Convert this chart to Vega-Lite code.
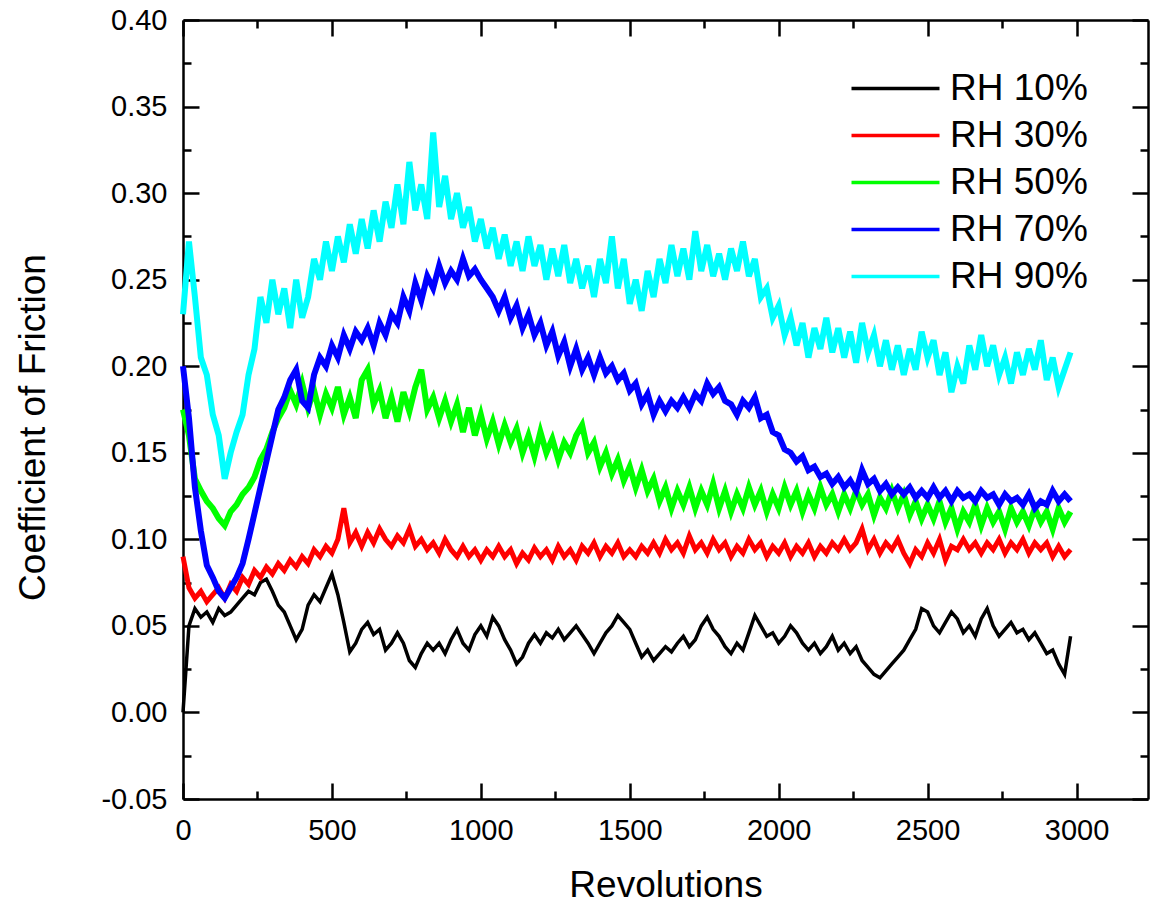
{
"$schema": "https://vega.github.io/schema/vega-lite/v6.json",
"width": 965, "height": 779,
"autosize": {"type": "none"},
"padding": {"left": 183, "top": 20, "right": 3, "bottom": 108},
"background": "white",
"config": {"view": {"stroke": null}, "font": "Liberation Sans",
 "axis": {"grid": false, "domainColor": "black", "domainWidth": 2.5, "tickColor": "black", "tickWidth": 2.5, "labelFont": "Liberation Sans", "labelFontSize": 29, "labelColor": "black", "titleFont": "Liberation Sans", "titleFontWeight": "normal", "titleColor": "black", "titleFontSize": 37, "labelFlush": false, "labelOverlap": false}},
"data": {"values": [
{"k":"RH 10%","r":0,"c":0.000},{"k":"RH 10%","r":20,"c":0.050},{"k":"RH 10%","r":40,"c":0.060},{"k":"RH 10%","r":60,"c":0.055},{"k":"RH 10%","r":80,"c":0.058},{"k":"RH 10%","r":100,"c":0.052},{"k":"RH 10%","r":120,"c":0.060},{"k":"RH 10%","r":140,"c":0.056},{"k":"RH 10%","r":160,"c":0.058},{"k":"RH 10%","r":180,"c":0.062},
{"k":"RH 10%","r":200,"c":0.066},{"k":"RH 10%","r":220,"c":0.070},{"k":"RH 10%","r":240,"c":0.068},{"k":"RH 10%","r":260,"c":0.075},{"k":"RH 10%","r":280,"c":0.077},{"k":"RH 10%","r":300,"c":0.070},{"k":"RH 10%","r":320,"c":0.062},{"k":"RH 10%","r":340,"c":0.058},{"k":"RH 10%","r":360,"c":0.050},{"k":"RH 10%","r":380,"c":0.042},
{"k":"RH 10%","r":400,"c":0.048},{"k":"RH 10%","r":420,"c":0.062},{"k":"RH 10%","r":440,"c":0.068},{"k":"RH 10%","r":460,"c":0.064},{"k":"RH 10%","r":480,"c":0.072},{"k":"RH 10%","r":500,"c":0.080},{"k":"RH 10%","r":520,"c":0.068},{"k":"RH 10%","r":540,"c":0.052},{"k":"RH 10%","r":560,"c":0.035},{"k":"RH 10%","r":580,"c":0.040},
{"k":"RH 10%","r":600,"c":0.048},{"k":"RH 10%","r":620,"c":0.052},{"k":"RH 10%","r":640,"c":0.045},{"k":"RH 10%","r":660,"c":0.048},{"k":"RH 10%","r":680,"c":0.036},{"k":"RH 10%","r":700,"c":0.040},{"k":"RH 10%","r":720,"c":0.046},{"k":"RH 10%","r":740,"c":0.040},{"k":"RH 10%","r":760,"c":0.030},{"k":"RH 10%","r":780,"c":0.026},
{"k":"RH 10%","r":800,"c":0.034},{"k":"RH 10%","r":820,"c":0.040},{"k":"RH 10%","r":840,"c":0.036},{"k":"RH 10%","r":860,"c":0.040},{"k":"RH 10%","r":880,"c":0.034},{"k":"RH 10%","r":900,"c":0.042},{"k":"RH 10%","r":920,"c":0.048},{"k":"RH 10%","r":940,"c":0.040},{"k":"RH 10%","r":960,"c":0.036},{"k":"RH 10%","r":980,"c":0.045},
{"k":"RH 10%","r":1000,"c":0.050},{"k":"RH 10%","r":1020,"c":0.044},{"k":"RH 10%","r":1040,"c":0.055},{"k":"RH 10%","r":1060,"c":0.050},{"k":"RH 10%","r":1080,"c":0.042},{"k":"RH 10%","r":1100,"c":0.036},{"k":"RH 10%","r":1120,"c":0.028},{"k":"RH 10%","r":1140,"c":0.032},{"k":"RH 10%","r":1160,"c":0.040},{"k":"RH 10%","r":1180,"c":0.045},
{"k":"RH 10%","r":1200,"c":0.040},{"k":"RH 10%","r":1220,"c":0.046},{"k":"RH 10%","r":1240,"c":0.043},{"k":"RH 10%","r":1260,"c":0.048},{"k":"RH 10%","r":1280,"c":0.042},{"k":"RH 10%","r":1300,"c":0.046},{"k":"RH 10%","r":1320,"c":0.050},{"k":"RH 10%","r":1340,"c":0.045},{"k":"RH 10%","r":1360,"c":0.040},{"k":"RH 10%","r":1380,"c":0.034},
{"k":"RH 10%","r":1400,"c":0.040},{"k":"RH 10%","r":1420,"c":0.046},{"k":"RH 10%","r":1440,"c":0.050},{"k":"RH 10%","r":1460,"c":0.056},{"k":"RH 10%","r":1480,"c":0.052},{"k":"RH 10%","r":1500,"c":0.048},{"k":"RH 10%","r":1520,"c":0.040},{"k":"RH 10%","r":1540,"c":0.032},{"k":"RH 10%","r":1560,"c":0.036},{"k":"RH 10%","r":1580,"c":0.030},
{"k":"RH 10%","r":1600,"c":0.034},{"k":"RH 10%","r":1620,"c":0.038},{"k":"RH 10%","r":1640,"c":0.035},{"k":"RH 10%","r":1660,"c":0.040},{"k":"RH 10%","r":1680,"c":0.044},{"k":"RH 10%","r":1700,"c":0.038},{"k":"RH 10%","r":1720,"c":0.042},{"k":"RH 10%","r":1740,"c":0.050},{"k":"RH 10%","r":1760,"c":0.055},{"k":"RH 10%","r":1780,"c":0.048},
{"k":"RH 10%","r":1800,"c":0.044},{"k":"RH 10%","r":1820,"c":0.038},{"k":"RH 10%","r":1840,"c":0.034},{"k":"RH 10%","r":1860,"c":0.040},{"k":"RH 10%","r":1880,"c":0.036},{"k":"RH 10%","r":1900,"c":0.046},{"k":"RH 10%","r":1920,"c":0.056},{"k":"RH 10%","r":1940,"c":0.050},{"k":"RH 10%","r":1960,"c":0.044},{"k":"RH 10%","r":1980,"c":0.046},
{"k":"RH 10%","r":2000,"c":0.040},{"k":"RH 10%","r":2020,"c":0.044},{"k":"RH 10%","r":2040,"c":0.050},{"k":"RH 10%","r":2060,"c":0.046},{"k":"RH 10%","r":2080,"c":0.040},{"k":"RH 10%","r":2100,"c":0.036},{"k":"RH 10%","r":2120,"c":0.040},{"k":"RH 10%","r":2140,"c":0.034},{"k":"RH 10%","r":2160,"c":0.038},{"k":"RH 10%","r":2180,"c":0.044},
{"k":"RH 10%","r":2200,"c":0.036},{"k":"RH 10%","r":2220,"c":0.040},{"k":"RH 10%","r":2240,"c":0.034},{"k":"RH 10%","r":2260,"c":0.038},{"k":"RH 10%","r":2280,"c":0.030},{"k":"RH 10%","r":2300,"c":0.026},{"k":"RH 10%","r":2320,"c":0.022},{"k":"RH 10%","r":2340,"c":0.020},{"k":"RH 10%","r":2360,"c":0.024},{"k":"RH 10%","r":2380,"c":0.028},
{"k":"RH 10%","r":2400,"c":0.032},{"k":"RH 10%","r":2420,"c":0.036},{"k":"RH 10%","r":2440,"c":0.042},{"k":"RH 10%","r":2460,"c":0.048},{"k":"RH 10%","r":2480,"c":0.060},{"k":"RH 10%","r":2500,"c":0.058},{"k":"RH 10%","r":2520,"c":0.050},{"k":"RH 10%","r":2540,"c":0.046},{"k":"RH 10%","r":2560,"c":0.052},{"k":"RH 10%","r":2580,"c":0.058},
{"k":"RH 10%","r":2600,"c":0.054},{"k":"RH 10%","r":2620,"c":0.046},{"k":"RH 10%","r":2640,"c":0.050},{"k":"RH 10%","r":2660,"c":0.044},{"k":"RH 10%","r":2680,"c":0.054},{"k":"RH 10%","r":2700,"c":0.060},{"k":"RH 10%","r":2720,"c":0.050},{"k":"RH 10%","r":2740,"c":0.044},{"k":"RH 10%","r":2760,"c":0.048},{"k":"RH 10%","r":2780,"c":0.052},
{"k":"RH 10%","r":2800,"c":0.046},{"k":"RH 10%","r":2820,"c":0.048},{"k":"RH 10%","r":2840,"c":0.042},{"k":"RH 10%","r":2860,"c":0.046},{"k":"RH 10%","r":2880,"c":0.040},{"k":"RH 10%","r":2900,"c":0.034},{"k":"RH 10%","r":2920,"c":0.036},{"k":"RH 10%","r":2940,"c":0.028},{"k":"RH 10%","r":2960,"c":0.022},{"k":"RH 10%","r":2980,"c":0.044},

{"k":"RH 30%","r":0,"c":0.090},{"k":"RH 30%","r":20,"c":0.072},{"k":"RH 30%","r":40,"c":0.066},{"k":"RH 30%","r":60,"c":0.070},{"k":"RH 30%","r":80,"c":0.064},{"k":"RH 30%","r":100,"c":0.068},{"k":"RH 30%","r":120,"c":0.072},{"k":"RH 30%","r":140,"c":0.066},{"k":"RH 30%","r":160,"c":0.074},{"k":"RH 30%","r":180,"c":0.070},
{"k":"RH 30%","r":200,"c":0.078},{"k":"RH 30%","r":220,"c":0.074},{"k":"RH 30%","r":240,"c":0.082},{"k":"RH 30%","r":260,"c":0.078},{"k":"RH 30%","r":280,"c":0.084},{"k":"RH 30%","r":300,"c":0.080},{"k":"RH 30%","r":320,"c":0.086},{"k":"RH 30%","r":340,"c":0.082},{"k":"RH 30%","r":360,"c":0.088},{"k":"RH 30%","r":380,"c":0.084},
{"k":"RH 30%","r":400,"c":0.090},{"k":"RH 30%","r":420,"c":0.086},{"k":"RH 30%","r":440,"c":0.094},{"k":"RH 30%","r":460,"c":0.090},{"k":"RH 30%","r":480,"c":0.096},{"k":"RH 30%","r":500,"c":0.092},{"k":"RH 30%","r":520,"c":0.100},{"k":"RH 30%","r":540,"c":0.118},{"k":"RH 30%","r":560,"c":0.098},{"k":"RH 30%","r":580,"c":0.104},
{"k":"RH 30%","r":600,"c":0.096},{"k":"RH 30%","r":620,"c":0.104},{"k":"RH 30%","r":640,"c":0.098},{"k":"RH 30%","r":660,"c":0.106},{"k":"RH 30%","r":680,"c":0.100},{"k":"RH 30%","r":700,"c":0.096},{"k":"RH 30%","r":720,"c":0.102},{"k":"RH 30%","r":740,"c":0.098},{"k":"RH 30%","r":760,"c":0.106},{"k":"RH 30%","r":780,"c":0.096},
{"k":"RH 30%","r":800,"c":0.100},{"k":"RH 30%","r":820,"c":0.094},{"k":"RH 30%","r":840,"c":0.098},{"k":"RH 30%","r":860,"c":0.092},{"k":"RH 30%","r":880,"c":0.100},{"k":"RH 30%","r":900,"c":0.094},{"k":"RH 30%","r":920,"c":0.090},{"k":"RH 30%","r":940,"c":0.096},{"k":"RH 30%","r":960,"c":0.090},{"k":"RH 30%","r":980,"c":0.094},
{"k":"RH 30%","r":1000,"c":0.088},{"k":"RH 30%","r":1020,"c":0.094},{"k":"RH 30%","r":1040,"c":0.090},{"k":"RH 30%","r":1060,"c":0.096},{"k":"RH 30%","r":1080,"c":0.090},{"k":"RH 30%","r":1100,"c":0.094},{"k":"RH 30%","r":1120,"c":0.086},{"k":"RH 30%","r":1140,"c":0.092},{"k":"RH 30%","r":1160,"c":0.088},{"k":"RH 30%","r":1180,"c":0.095},
{"k":"RH 30%","r":1200,"c":0.090},{"k":"RH 30%","r":1220,"c":0.094},{"k":"RH 30%","r":1240,"c":0.088},{"k":"RH 30%","r":1260,"c":0.096},{"k":"RH 30%","r":1280,"c":0.090},{"k":"RH 30%","r":1300,"c":0.094},{"k":"RH 30%","r":1320,"c":0.088},{"k":"RH 30%","r":1340,"c":0.096},{"k":"RH 30%","r":1360,"c":0.092},{"k":"RH 30%","r":1380,"c":0.098},
{"k":"RH 30%","r":1400,"c":0.090},{"k":"RH 30%","r":1420,"c":0.096},{"k":"RH 30%","r":1440,"c":0.092},{"k":"RH 30%","r":1460,"c":0.098},{"k":"RH 30%","r":1480,"c":0.090},{"k":"RH 30%","r":1500,"c":0.094},{"k":"RH 30%","r":1520,"c":0.090},{"k":"RH 30%","r":1540,"c":0.096},{"k":"RH 30%","r":1560,"c":0.092},{"k":"RH 30%","r":1580,"c":0.098},
{"k":"RH 30%","r":1600,"c":0.092},{"k":"RH 30%","r":1620,"c":0.100},{"k":"RH 30%","r":1640,"c":0.094},{"k":"RH 30%","r":1660,"c":0.098},{"k":"RH 30%","r":1680,"c":0.092},{"k":"RH 30%","r":1700,"c":0.102},{"k":"RH 30%","r":1720,"c":0.094},{"k":"RH 30%","r":1740,"c":0.098},{"k":"RH 30%","r":1760,"c":0.092},{"k":"RH 30%","r":1780,"c":0.100},
{"k":"RH 30%","r":1800,"c":0.094},{"k":"RH 30%","r":1820,"c":0.098},{"k":"RH 30%","r":1840,"c":0.090},{"k":"RH 30%","r":1860,"c":0.096},{"k":"RH 30%","r":1880,"c":0.092},{"k":"RH 30%","r":1900,"c":0.100},{"k":"RH 30%","r":1920,"c":0.094},{"k":"RH 30%","r":1940,"c":0.098},{"k":"RH 30%","r":1960,"c":0.090},{"k":"RH 30%","r":1980,"c":0.096},
{"k":"RH 30%","r":2000,"c":0.092},{"k":"RH 30%","r":2020,"c":0.098},{"k":"RH 30%","r":2040,"c":0.090},{"k":"RH 30%","r":2060,"c":0.096},{"k":"RH 30%","r":2080,"c":0.092},{"k":"RH 30%","r":2100,"c":0.098},{"k":"RH 30%","r":2120,"c":0.090},{"k":"RH 30%","r":2140,"c":0.096},{"k":"RH 30%","r":2160,"c":0.092},{"k":"RH 30%","r":2180,"c":0.098},
{"k":"RH 30%","r":2200,"c":0.094},{"k":"RH 30%","r":2220,"c":0.100},{"k":"RH 30%","r":2240,"c":0.094},{"k":"RH 30%","r":2260,"c":0.098},{"k":"RH 30%","r":2280,"c":0.106},{"k":"RH 30%","r":2300,"c":0.094},{"k":"RH 30%","r":2320,"c":0.100},{"k":"RH 30%","r":2340,"c":0.092},{"k":"RH 30%","r":2360,"c":0.098},{"k":"RH 30%","r":2380,"c":0.094},
{"k":"RH 30%","r":2400,"c":0.100},{"k":"RH 30%","r":2420,"c":0.092},{"k":"RH 30%","r":2440,"c":0.086},{"k":"RH 30%","r":2460,"c":0.094},{"k":"RH 30%","r":2480,"c":0.090},{"k":"RH 30%","r":2500,"c":0.098},{"k":"RH 30%","r":2520,"c":0.092},{"k":"RH 30%","r":2540,"c":0.100},{"k":"RH 30%","r":2560,"c":0.088},{"k":"RH 30%","r":2580,"c":0.096},
{"k":"RH 30%","r":2600,"c":0.094},{"k":"RH 30%","r":2620,"c":0.100},{"k":"RH 30%","r":2640,"c":0.094},{"k":"RH 30%","r":2660,"c":0.098},{"k":"RH 30%","r":2680,"c":0.092},{"k":"RH 30%","r":2700,"c":0.098},{"k":"RH 30%","r":2720,"c":0.094},{"k":"RH 30%","r":2740,"c":0.100},{"k":"RH 30%","r":2760,"c":0.092},{"k":"RH 30%","r":2780,"c":0.098},
{"k":"RH 30%","r":2800,"c":0.094},{"k":"RH 30%","r":2820,"c":0.100},{"k":"RH 30%","r":2840,"c":0.092},{"k":"RH 30%","r":2860,"c":0.098},{"k":"RH 30%","r":2880,"c":0.094},{"k":"RH 30%","r":2900,"c":0.098},{"k":"RH 30%","r":2920,"c":0.090},{"k":"RH 30%","r":2940,"c":0.096},{"k":"RH 30%","r":2960,"c":0.090},{"k":"RH 30%","r":2980,"c":0.094},

{"k":"RH 50%","r":0,"c":0.175},{"k":"RH 50%","r":20,"c":0.160},{"k":"RH 50%","r":40,"c":0.135},{"k":"RH 50%","r":60,"c":0.128},{"k":"RH 50%","r":80,"c":0.122},{"k":"RH 50%","r":100,"c":0.118},{"k":"RH 50%","r":120,"c":0.112},{"k":"RH 50%","r":140,"c":0.108},{"k":"RH 50%","r":160,"c":0.116},{"k":"RH 50%","r":180,"c":0.120},
{"k":"RH 50%","r":200,"c":0.126},{"k":"RH 50%","r":220,"c":0.130},{"k":"RH 50%","r":240,"c":0.136},{"k":"RH 50%","r":260,"c":0.146},{"k":"RH 50%","r":280,"c":0.152},{"k":"RH 50%","r":300,"c":0.162},{"k":"RH 50%","r":320,"c":0.170},{"k":"RH 50%","r":340,"c":0.176},{"k":"RH 50%","r":360,"c":0.186},{"k":"RH 50%","r":380,"c":0.178},
{"k":"RH 50%","r":400,"c":0.190},{"k":"RH 50%","r":420,"c":0.176},{"k":"RH 50%","r":440,"c":0.186},{"k":"RH 50%","r":460,"c":0.172},{"k":"RH 50%","r":480,"c":0.184},{"k":"RH 50%","r":500,"c":0.176},{"k":"RH 50%","r":520,"c":0.188},{"k":"RH 50%","r":540,"c":0.172},{"k":"RH 50%","r":560,"c":0.182},{"k":"RH 50%","r":580,"c":0.170},
{"k":"RH 50%","r":600,"c":0.192},{"k":"RH 50%","r":620,"c":0.198},{"k":"RH 50%","r":640,"c":0.178},{"k":"RH 50%","r":660,"c":0.186},{"k":"RH 50%","r":680,"c":0.170},{"k":"RH 50%","r":700,"c":0.182},{"k":"RH 50%","r":720,"c":0.168},{"k":"RH 50%","r":740,"c":0.185},{"k":"RH 50%","r":760,"c":0.174},{"k":"RH 50%","r":780,"c":0.188},
{"k":"RH 50%","r":800,"c":0.198},{"k":"RH 50%","r":820,"c":0.175},{"k":"RH 50%","r":840,"c":0.182},{"k":"RH 50%","r":860,"c":0.170},{"k":"RH 50%","r":880,"c":0.180},{"k":"RH 50%","r":900,"c":0.168},{"k":"RH 50%","r":920,"c":0.178},{"k":"RH 50%","r":940,"c":0.162},{"k":"RH 50%","r":960,"c":0.176},{"k":"RH 50%","r":980,"c":0.160},
{"k":"RH 50%","r":1000,"c":0.172},{"k":"RH 50%","r":1020,"c":0.158},{"k":"RH 50%","r":1040,"c":0.168},{"k":"RH 50%","r":1060,"c":0.155},{"k":"RH 50%","r":1080,"c":0.166},{"k":"RH 50%","r":1100,"c":0.156},{"k":"RH 50%","r":1120,"c":0.164},{"k":"RH 50%","r":1140,"c":0.150},{"k":"RH 50%","r":1160,"c":0.160},{"k":"RH 50%","r":1180,"c":0.148},
{"k":"RH 50%","r":1200,"c":0.162},{"k":"RH 50%","r":1220,"c":0.150},{"k":"RH 50%","r":1240,"c":0.158},{"k":"RH 50%","r":1260,"c":0.146},{"k":"RH 50%","r":1280,"c":0.156},{"k":"RH 50%","r":1300,"c":0.150},{"k":"RH 50%","r":1320,"c":0.160},{"k":"RH 50%","r":1340,"c":0.166},{"k":"RH 50%","r":1360,"c":0.150},{"k":"RH 50%","r":1380,"c":0.156},
{"k":"RH 50%","r":1400,"c":0.142},{"k":"RH 50%","r":1420,"c":0.150},{"k":"RH 50%","r":1440,"c":0.138},{"k":"RH 50%","r":1460,"c":0.146},{"k":"RH 50%","r":1480,"c":0.134},{"k":"RH 50%","r":1500,"c":0.142},{"k":"RH 50%","r":1520,"c":0.130},{"k":"RH 50%","r":1540,"c":0.140},{"k":"RH 50%","r":1560,"c":0.128},{"k":"RH 50%","r":1580,"c":0.135},
{"k":"RH 50%","r":1600,"c":0.122},{"k":"RH 50%","r":1620,"c":0.130},{"k":"RH 50%","r":1640,"c":0.118},{"k":"RH 50%","r":1660,"c":0.128},{"k":"RH 50%","r":1680,"c":0.120},{"k":"RH 50%","r":1700,"c":0.130},{"k":"RH 50%","r":1720,"c":0.118},{"k":"RH 50%","r":1740,"c":0.128},{"k":"RH 50%","r":1760,"c":0.120},{"k":"RH 50%","r":1780,"c":0.132},
{"k":"RH 50%","r":1800,"c":0.118},{"k":"RH 50%","r":1820,"c":0.128},{"k":"RH 50%","r":1840,"c":0.116},{"k":"RH 50%","r":1860,"c":0.126},{"k":"RH 50%","r":1880,"c":0.118},{"k":"RH 50%","r":1900,"c":0.130},{"k":"RH 50%","r":1920,"c":0.120},{"k":"RH 50%","r":1940,"c":0.128},{"k":"RH 50%","r":1960,"c":0.116},{"k":"RH 50%","r":1980,"c":0.126},
{"k":"RH 50%","r":2000,"c":0.118},{"k":"RH 50%","r":2020,"c":0.130},{"k":"RH 50%","r":2040,"c":0.120},{"k":"RH 50%","r":2060,"c":0.128},{"k":"RH 50%","r":2080,"c":0.116},{"k":"RH 50%","r":2100,"c":0.126},{"k":"RH 50%","r":2120,"c":0.118},{"k":"RH 50%","r":2140,"c":0.130},{"k":"RH 50%","r":2160,"c":0.120},{"k":"RH 50%","r":2180,"c":0.126},
{"k":"RH 50%","r":2200,"c":0.116},{"k":"RH 50%","r":2220,"c":0.126},{"k":"RH 50%","r":2240,"c":0.118},{"k":"RH 50%","r":2260,"c":0.128},{"k":"RH 50%","r":2280,"c":0.120},{"k":"RH 50%","r":2300,"c":0.126},{"k":"RH 50%","r":2320,"c":0.114},{"k":"RH 50%","r":2340,"c":0.124},{"k":"RH 50%","r":2360,"c":0.118},{"k":"RH 50%","r":2380,"c":0.128},
{"k":"RH 50%","r":2400,"c":0.118},{"k":"RH 50%","r":2420,"c":0.126},{"k":"RH 50%","r":2440,"c":0.114},{"k":"RH 50%","r":2460,"c":0.122},{"k":"RH 50%","r":2480,"c":0.112},{"k":"RH 50%","r":2500,"c":0.120},{"k":"RH 50%","r":2520,"c":0.112},{"k":"RH 50%","r":2540,"c":0.122},{"k":"RH 50%","r":2560,"c":0.110},{"k":"RH 50%","r":2580,"c":0.118},
{"k":"RH 50%","r":2600,"c":0.106},{"k":"RH 50%","r":2620,"c":0.116},{"k":"RH 50%","r":2640,"c":0.110},{"k":"RH 50%","r":2660,"c":0.120},{"k":"RH 50%","r":2680,"c":0.108},{"k":"RH 50%","r":2700,"c":0.118},{"k":"RH 50%","r":2720,"c":0.110},{"k":"RH 50%","r":2740,"c":0.116},{"k":"RH 50%","r":2760,"c":0.106},{"k":"RH 50%","r":2780,"c":0.118},
{"k":"RH 50%","r":2800,"c":0.110},{"k":"RH 50%","r":2820,"c":0.116},{"k":"RH 50%","r":2840,"c":0.108},{"k":"RH 50%","r":2860,"c":0.118},{"k":"RH 50%","r":2880,"c":0.110},{"k":"RH 50%","r":2900,"c":0.116},{"k":"RH 50%","r":2920,"c":0.106},{"k":"RH 50%","r":2940,"c":0.118},{"k":"RH 50%","r":2960,"c":0.110},{"k":"RH 50%","r":2980,"c":0.116},

{"k":"RH 70%","r":0,"c":0.200},{"k":"RH 70%","r":20,"c":0.170},{"k":"RH 70%","r":40,"c":0.130},{"k":"RH 70%","r":60,"c":0.105},{"k":"RH 70%","r":80,"c":0.085},{"k":"RH 70%","r":100,"c":0.078},{"k":"RH 70%","r":120,"c":0.070},{"k":"RH 70%","r":140,"c":0.066},{"k":"RH 70%","r":160,"c":0.072},{"k":"RH 70%","r":180,"c":0.078},
{"k":"RH 70%","r":200,"c":0.086},{"k":"RH 70%","r":220,"c":0.100},{"k":"RH 70%","r":240,"c":0.115},{"k":"RH 70%","r":260,"c":0.130},{"k":"RH 70%","r":280,"c":0.145},{"k":"RH 70%","r":300,"c":0.160},{"k":"RH 70%","r":320,"c":0.175},{"k":"RH 70%","r":340,"c":0.182},{"k":"RH 70%","r":360,"c":0.192},{"k":"RH 70%","r":380,"c":0.198},
{"k":"RH 70%","r":400,"c":0.180},{"k":"RH 70%","r":420,"c":0.176},{"k":"RH 70%","r":440,"c":0.195},{"k":"RH 70%","r":460,"c":0.205},{"k":"RH 70%","r":480,"c":0.200},{"k":"RH 70%","r":500,"c":0.212},{"k":"RH 70%","r":520,"c":0.205},{"k":"RH 70%","r":540,"c":0.218},{"k":"RH 70%","r":560,"c":0.210},{"k":"RH 70%","r":580,"c":0.220},
{"k":"RH 70%","r":600,"c":0.215},{"k":"RH 70%","r":620,"c":0.222},{"k":"RH 70%","r":640,"c":0.212},{"k":"RH 70%","r":660,"c":0.225},{"k":"RH 70%","r":680,"c":0.218},{"k":"RH 70%","r":700,"c":0.230},{"k":"RH 70%","r":720,"c":0.225},{"k":"RH 70%","r":740,"c":0.240},{"k":"RH 70%","r":760,"c":0.232},{"k":"RH 70%","r":780,"c":0.248},
{"k":"RH 70%","r":800,"c":0.238},{"k":"RH 70%","r":820,"c":0.252},{"k":"RH 70%","r":840,"c":0.245},{"k":"RH 70%","r":860,"c":0.258},{"k":"RH 70%","r":880,"c":0.248},{"k":"RH 70%","r":900,"c":0.255},{"k":"RH 70%","r":920,"c":0.250},{"k":"RH 70%","r":940,"c":0.262},{"k":"RH 70%","r":960,"c":0.252},{"k":"RH 70%","r":980,"c":0.256},
{"k":"RH 70%","r":1000,"c":0.250},{"k":"RH 70%","r":1020,"c":0.245},{"k":"RH 70%","r":1040,"c":0.240},{"k":"RH 70%","r":1060,"c":0.232},{"k":"RH 70%","r":1080,"c":0.240},{"k":"RH 70%","r":1100,"c":0.228},{"k":"RH 70%","r":1120,"c":0.235},{"k":"RH 70%","r":1140,"c":0.222},{"k":"RH 70%","r":1160,"c":0.230},{"k":"RH 70%","r":1180,"c":0.218},
{"k":"RH 70%","r":1200,"c":0.225},{"k":"RH 70%","r":1220,"c":0.212},{"k":"RH 70%","r":1240,"c":0.220},{"k":"RH 70%","r":1260,"c":0.206},{"k":"RH 70%","r":1280,"c":0.214},{"k":"RH 70%","r":1300,"c":0.200},{"k":"RH 70%","r":1320,"c":0.210},{"k":"RH 70%","r":1340,"c":0.198},{"k":"RH 70%","r":1360,"c":0.205},{"k":"RH 70%","r":1380,"c":0.195},
{"k":"RH 70%","r":1400,"c":0.205},{"k":"RH 70%","r":1420,"c":0.196},{"k":"RH 70%","r":1440,"c":0.200},{"k":"RH 70%","r":1460,"c":0.192},{"k":"RH 70%","r":1480,"c":0.196},{"k":"RH 70%","r":1500,"c":0.186},{"k":"RH 70%","r":1520,"c":0.190},{"k":"RH 70%","r":1540,"c":0.178},{"k":"RH 70%","r":1560,"c":0.184},{"k":"RH 70%","r":1580,"c":0.172},
{"k":"RH 70%","r":1600,"c":0.180},{"k":"RH 70%","r":1620,"c":0.174},{"k":"RH 70%","r":1640,"c":0.180},{"k":"RH 70%","r":1660,"c":0.176},{"k":"RH 70%","r":1680,"c":0.182},{"k":"RH 70%","r":1700,"c":0.176},{"k":"RH 70%","r":1720,"c":0.184},{"k":"RH 70%","r":1740,"c":0.180},{"k":"RH 70%","r":1760,"c":0.190},{"k":"RH 70%","r":1780,"c":0.184},
{"k":"RH 70%","r":1800,"c":0.188},{"k":"RH 70%","r":1820,"c":0.180},{"k":"RH 70%","r":1840,"c":0.178},{"k":"RH 70%","r":1860,"c":0.172},{"k":"RH 70%","r":1880,"c":0.180},{"k":"RH 70%","r":1900,"c":0.176},{"k":"RH 70%","r":1920,"c":0.182},{"k":"RH 70%","r":1940,"c":0.170},{"k":"RH 70%","r":1960,"c":0.172},{"k":"RH 70%","r":1980,"c":0.162},
{"k":"RH 70%","r":2000,"c":0.160},{"k":"RH 70%","r":2020,"c":0.152},{"k":"RH 70%","r":2040,"c":0.150},{"k":"RH 70%","r":2060,"c":0.145},{"k":"RH 70%","r":2080,"c":0.148},{"k":"RH 70%","r":2100,"c":0.140},{"k":"RH 70%","r":2120,"c":0.142},{"k":"RH 70%","r":2140,"c":0.136},{"k":"RH 70%","r":2160,"c":0.138},{"k":"RH 70%","r":2180,"c":0.132},
{"k":"RH 70%","r":2200,"c":0.136},{"k":"RH 70%","r":2220,"c":0.130},{"k":"RH 70%","r":2240,"c":0.134},{"k":"RH 70%","r":2260,"c":0.128},{"k":"RH 70%","r":2280,"c":0.140},{"k":"RH 70%","r":2300,"c":0.132},{"k":"RH 70%","r":2320,"c":0.135},{"k":"RH 70%","r":2340,"c":0.128},{"k":"RH 70%","r":2360,"c":0.132},{"k":"RH 70%","r":2380,"c":0.126},
{"k":"RH 70%","r":2400,"c":0.130},{"k":"RH 70%","r":2420,"c":0.126},{"k":"RH 70%","r":2440,"c":0.130},{"k":"RH 70%","r":2460,"c":0.124},{"k":"RH 70%","r":2480,"c":0.128},{"k":"RH 70%","r":2500,"c":0.124},{"k":"RH 70%","r":2520,"c":0.130},{"k":"RH 70%","r":2540,"c":0.124},{"k":"RH 70%","r":2560,"c":0.128},{"k":"RH 70%","r":2580,"c":0.122},
{"k":"RH 70%","r":2600,"c":0.128},{"k":"RH 70%","r":2620,"c":0.124},{"k":"RH 70%","r":2640,"c":0.126},{"k":"RH 70%","r":2660,"c":0.122},{"k":"RH 70%","r":2680,"c":0.128},{"k":"RH 70%","r":2700,"c":0.124},{"k":"RH 70%","r":2720,"c":0.126},{"k":"RH 70%","r":2740,"c":0.120},{"k":"RH 70%","r":2760,"c":0.126},{"k":"RH 70%","r":2780,"c":0.122},
{"k":"RH 70%","r":2800,"c":0.124},{"k":"RH 70%","r":2820,"c":0.120},{"k":"RH 70%","r":2840,"c":0.126},{"k":"RH 70%","r":2860,"c":0.118},{"k":"RH 70%","r":2880,"c":0.122},{"k":"RH 70%","r":2900,"c":0.120},{"k":"RH 70%","r":2920,"c":0.128},{"k":"RH 70%","r":2940,"c":0.122},{"k":"RH 70%","r":2960,"c":0.126},{"k":"RH 70%","r":2980,"c":0.122},

{"k":"RH 90%","r":0,"c":0.230},{"k":"RH 90%","r":20,"c":0.272},{"k":"RH 90%","r":40,"c":0.240},{"k":"RH 90%","r":60,"c":0.205},{"k":"RH 90%","r":80,"c":0.195},{"k":"RH 90%","r":100,"c":0.172},{"k":"RH 90%","r":120,"c":0.160},{"k":"RH 90%","r":140,"c":0.135},{"k":"RH 90%","r":160,"c":0.150},{"k":"RH 90%","r":180,"c":0.162},
{"k":"RH 90%","r":200,"c":0.172},{"k":"RH 90%","r":220,"c":0.195},{"k":"RH 90%","r":240,"c":0.210},{"k":"RH 90%","r":260,"c":0.240},{"k":"RH 90%","r":280,"c":0.225},{"k":"RH 90%","r":300,"c":0.250},{"k":"RH 90%","r":320,"c":0.230},{"k":"RH 90%","r":340,"c":0.245},{"k":"RH 90%","r":360,"c":0.222},{"k":"RH 90%","r":380,"c":0.250},
{"k":"RH 90%","r":400,"c":0.228},{"k":"RH 90%","r":420,"c":0.240},{"k":"RH 90%","r":440,"c":0.262},{"k":"RH 90%","r":460,"c":0.250},{"k":"RH 90%","r":480,"c":0.272},{"k":"RH 90%","r":500,"c":0.255},{"k":"RH 90%","r":520,"c":0.275},{"k":"RH 90%","r":540,"c":0.260},{"k":"RH 90%","r":560,"c":0.282},{"k":"RH 90%","r":580,"c":0.265},
{"k":"RH 90%","r":600,"c":0.285},{"k":"RH 90%","r":620,"c":0.268},{"k":"RH 90%","r":640,"c":0.290},{"k":"RH 90%","r":660,"c":0.272},{"k":"RH 90%","r":680,"c":0.295},{"k":"RH 90%","r":700,"c":0.280},{"k":"RH 90%","r":720,"c":0.305},{"k":"RH 90%","r":740,"c":0.282},{"k":"RH 90%","r":760,"c":0.318},{"k":"RH 90%","r":780,"c":0.290},
{"k":"RH 90%","r":800,"c":0.305},{"k":"RH 90%","r":820,"c":0.285},{"k":"RH 90%","r":840,"c":0.335},{"k":"RH 90%","r":860,"c":0.292},{"k":"RH 90%","r":880,"c":0.310},{"k":"RH 90%","r":900,"c":0.285},{"k":"RH 90%","r":920,"c":0.300},{"k":"RH 90%","r":940,"c":0.280},{"k":"RH 90%","r":960,"c":0.292},{"k":"RH 90%","r":980,"c":0.272},
{"k":"RH 90%","r":1000,"c":0.285},{"k":"RH 90%","r":1020,"c":0.268},{"k":"RH 90%","r":1040,"c":0.280},{"k":"RH 90%","r":1060,"c":0.262},{"k":"RH 90%","r":1080,"c":0.276},{"k":"RH 90%","r":1100,"c":0.258},{"k":"RH 90%","r":1120,"c":0.272},{"k":"RH 90%","r":1140,"c":0.255},{"k":"RH 90%","r":1160,"c":0.275},{"k":"RH 90%","r":1180,"c":0.258},
{"k":"RH 90%","r":1200,"c":0.270},{"k":"RH 90%","r":1220,"c":0.250},{"k":"RH 90%","r":1240,"c":0.268},{"k":"RH 90%","r":1260,"c":0.252},{"k":"RH 90%","r":1280,"c":0.270},{"k":"RH 90%","r":1300,"c":0.248},{"k":"RH 90%","r":1320,"c":0.262},{"k":"RH 90%","r":1340,"c":0.245},{"k":"RH 90%","r":1360,"c":0.258},{"k":"RH 90%","r":1380,"c":0.240},
{"k":"RH 90%","r":1400,"c":0.262},{"k":"RH 90%","r":1420,"c":0.248},{"k":"RH 90%","r":1440,"c":0.275},{"k":"RH 90%","r":1460,"c":0.245},{"k":"RH 90%","r":1480,"c":0.262},{"k":"RH 90%","r":1500,"c":0.236},{"k":"RH 90%","r":1520,"c":0.250},{"k":"RH 90%","r":1540,"c":0.232},{"k":"RH 90%","r":1560,"c":0.255},{"k":"RH 90%","r":1580,"c":0.240},
{"k":"RH 90%","r":1600,"c":0.262},{"k":"RH 90%","r":1620,"c":0.248},{"k":"RH 90%","r":1640,"c":0.270},{"k":"RH 90%","r":1660,"c":0.252},{"k":"RH 90%","r":1680,"c":0.268},{"k":"RH 90%","r":1700,"c":0.250},{"k":"RH 90%","r":1720,"c":0.278},{"k":"RH 90%","r":1740,"c":0.255},{"k":"RH 90%","r":1760,"c":0.270},{"k":"RH 90%","r":1780,"c":0.252},
{"k":"RH 90%","r":1800,"c":0.265},{"k":"RH 90%","r":1820,"c":0.250},{"k":"RH 90%","r":1840,"c":0.268},{"k":"RH 90%","r":1860,"c":0.255},{"k":"RH 90%","r":1880,"c":0.272},{"k":"RH 90%","r":1900,"c":0.252},{"k":"RH 90%","r":1920,"c":0.262},{"k":"RH 90%","r":1940,"c":0.240},{"k":"RH 90%","r":1960,"c":0.245},{"k":"RH 90%","r":1980,"c":0.228},
{"k":"RH 90%","r":2000,"c":0.235},{"k":"RH 90%","r":2020,"c":0.218},{"k":"RH 90%","r":2040,"c":0.228},{"k":"RH 90%","r":2060,"c":0.212},{"k":"RH 90%","r":2080,"c":0.225},{"k":"RH 90%","r":2100,"c":0.205},{"k":"RH 90%","r":2120,"c":0.222},{"k":"RH 90%","r":2140,"c":0.210},{"k":"RH 90%","r":2160,"c":0.228},{"k":"RH 90%","r":2180,"c":0.208},
{"k":"RH 90%","r":2200,"c":0.222},{"k":"RH 90%","r":2220,"c":0.205},{"k":"RH 90%","r":2240,"c":0.220},{"k":"RH 90%","r":2260,"c":0.202},{"k":"RH 90%","r":2280,"c":0.225},{"k":"RH 90%","r":2300,"c":0.208},{"k":"RH 90%","r":2320,"c":0.218},{"k":"RH 90%","r":2340,"c":0.200},{"k":"RH 90%","r":2360,"c":0.215},{"k":"RH 90%","r":2380,"c":0.198},
{"k":"RH 90%","r":2400,"c":0.212},{"k":"RH 90%","r":2420,"c":0.195},{"k":"RH 90%","r":2440,"c":0.210},{"k":"RH 90%","r":2460,"c":0.198},{"k":"RH 90%","r":2480,"c":0.220},{"k":"RH 90%","r":2500,"c":0.205},{"k":"RH 90%","r":2520,"c":0.215},{"k":"RH 90%","r":2540,"c":0.195},{"k":"RH 90%","r":2560,"c":0.208},{"k":"RH 90%","r":2580,"c":0.185},
{"k":"RH 90%","r":2600,"c":0.200},{"k":"RH 90%","r":2620,"c":0.190},{"k":"RH 90%","r":2640,"c":0.212},{"k":"RH 90%","r":2660,"c":0.198},{"k":"RH 90%","r":2680,"c":0.218},{"k":"RH 90%","r":2700,"c":0.200},{"k":"RH 90%","r":2720,"c":0.212},{"k":"RH 90%","r":2740,"c":0.195},{"k":"RH 90%","r":2760,"c":0.205},{"k":"RH 90%","r":2780,"c":0.190},
{"k":"RH 90%","r":2800,"c":0.208},{"k":"RH 90%","r":2820,"c":0.195},{"k":"RH 90%","r":2840,"c":0.210},{"k":"RH 90%","r":2860,"c":0.198},{"k":"RH 90%","r":2880,"c":0.215},{"k":"RH 90%","r":2900,"c":0.192},{"k":"RH 90%","r":2920,"c":0.205},{"k":"RH 90%","r":2940,"c":0.188},{"k":"RH 90%","r":2960,"c":0.198},{"k":"RH 90%","r":2980,"c":0.208}
]},
"layer": [
{
"transform": [{"filter": "datum.k === 'RH 10%'"}],
"mark": {"type": "line", "strokeJoin": "miter", "strokeWidth": 3.5},
"encoding": {
 "x": {"field": "r", "type": "quantitative", "scale": {"domain": [0, 3240], "nice": false, "zero": false},
  "axis": {"orient": "bottom", "values": [0,500,1000,1500,2000,2500,3000], "format": "d", "tickSize": -16, "labelPadding": 33, "title": "Revolutions", "titleX": 482.5, "titleY": 86, "titleBaseline": "middle", "titleAnchor": "middle", "titleAlign": "center"}},
 "y": {"field": "c", "type": "quantitative", "scale": {"domain": [-0.05, 0.4], "nice": false, "zero": false},
  "axis": {"orient": "left", "values": [-0.05,0,0.05,0.1,0.15,0.2,0.25,0.3,0.35,0.4], "format": ".2f", "labelExpr": "replace(datum.label, '\u2212', '-')", "tickSize": -16, "labelPadding": 32, "title": "Coefficient of Friction", "titleX": -150, "titleY": 407, "titleAngle": 270, "titleBaseline": "middle", "titleAlign": "center", "titleAnchor": "middle"}},
 "color": {"field": "k", "type": "nominal",
  "scale": {"domain": ["RH 10%","RH 30%","RH 50%","RH 70%","RH 90%"], "range": ["#000000","#ff0000","#00ff00","#0000ff","#00ffff"]},
  "legend": {"orient": "none", "legendX": 694, "legendY": 50, "title": null, "symbolType": "M-4,0H4", "symbolSize": 484, "symbolStrokeWidth": 3.3, "labelFont": "Liberation Sans", "labelFontSize": 37, "labelColor": "black", "labelOffset": 36, "rowPadding": 9, "padding": 0, "labelLimit": 400}}
}
},
{
"transform": [{"filter": "datum.k === 'RH 30%'"}],
"mark": {"type": "line", "strokeJoin": "miter", "strokeWidth": 5},
"encoding": {
 "x": {"field": "r", "type": "quantitative", "axis": null},
 "y": {"field": "c", "type": "quantitative", "axis": null},
 "color": {"field": "k", "type": "nominal"}
}
},
{
"transform": [{"filter": "datum.k !== 'RH 10%' && datum.k !== 'RH 30%'"}],
"mark": {"type": "line", "strokeJoin": "miter", "strokeWidth": 6},
"encoding": {
 "x": {"field": "r", "type": "quantitative", "axis": null},
 "y": {"field": "c", "type": "quantitative", "axis": null},
 "color": {"field": "k", "type": "nominal"}
}
},
{
"data": {"values": [{"r": 0, "c": 0}]},
"mark": {"type": "point", "opacity": 0},
"encoding": {
 "x": {"field": "r", "type": "quantitative", "axis": {"orient": "bottom", "values": [250,750,1250,1750,2250,2750], "tickSize": -8, "labels": false, "domain": false, "title": null}},
 "y": {"field": "c", "type": "quantitative", "axis": {"orient": "left", "values": [-0.025,0.025,0.075,0.125,0.175,0.225,0.275,0.325,0.375], "tickSize": -8, "labels": false, "domain": false, "title": null}}
}
},
{
"data": {"values": [{"r": 0, "c": 0}]},
"mark": {"type": "point", "opacity": 0},
"encoding": {
 "x": {"field": "r", "type": "quantitative", "axis": {"orient": "top", "values": [0,500,1000,1500,2000,2500,3000], "tickSize": -16, "labels": false, "title": null}},
 "y": {"field": "c", "type": "quantitative", "axis": {"orient": "right", "values": [-0.05,0,0.05,0.1,0.15,0.2,0.25,0.3,0.35,0.4], "tickSize": -16, "labels": false, "title": null}}
}
},
{
"data": {"values": [{"r": 0, "c": 0}]},
"mark": {"type": "point", "opacity": 0},
"encoding": {
 "x": {"field": "r", "type": "quantitative", "axis": {"orient": "top", "values": [250,750,1250,1750,2250,2750], "tickSize": -8, "labels": false, "domain": false, "title": null}},
 "y": {"field": "c", "type": "quantitative", "axis": {"orient": "right", "values": [-0.025,0.025,0.075,0.125,0.175,0.225,0.275,0.325,0.375], "tickSize": -8, "labels": false, "domain": false, "title": null}}
}
}
],
"resolve": {"axis": {"x": "independent", "y": "independent"}}
}
